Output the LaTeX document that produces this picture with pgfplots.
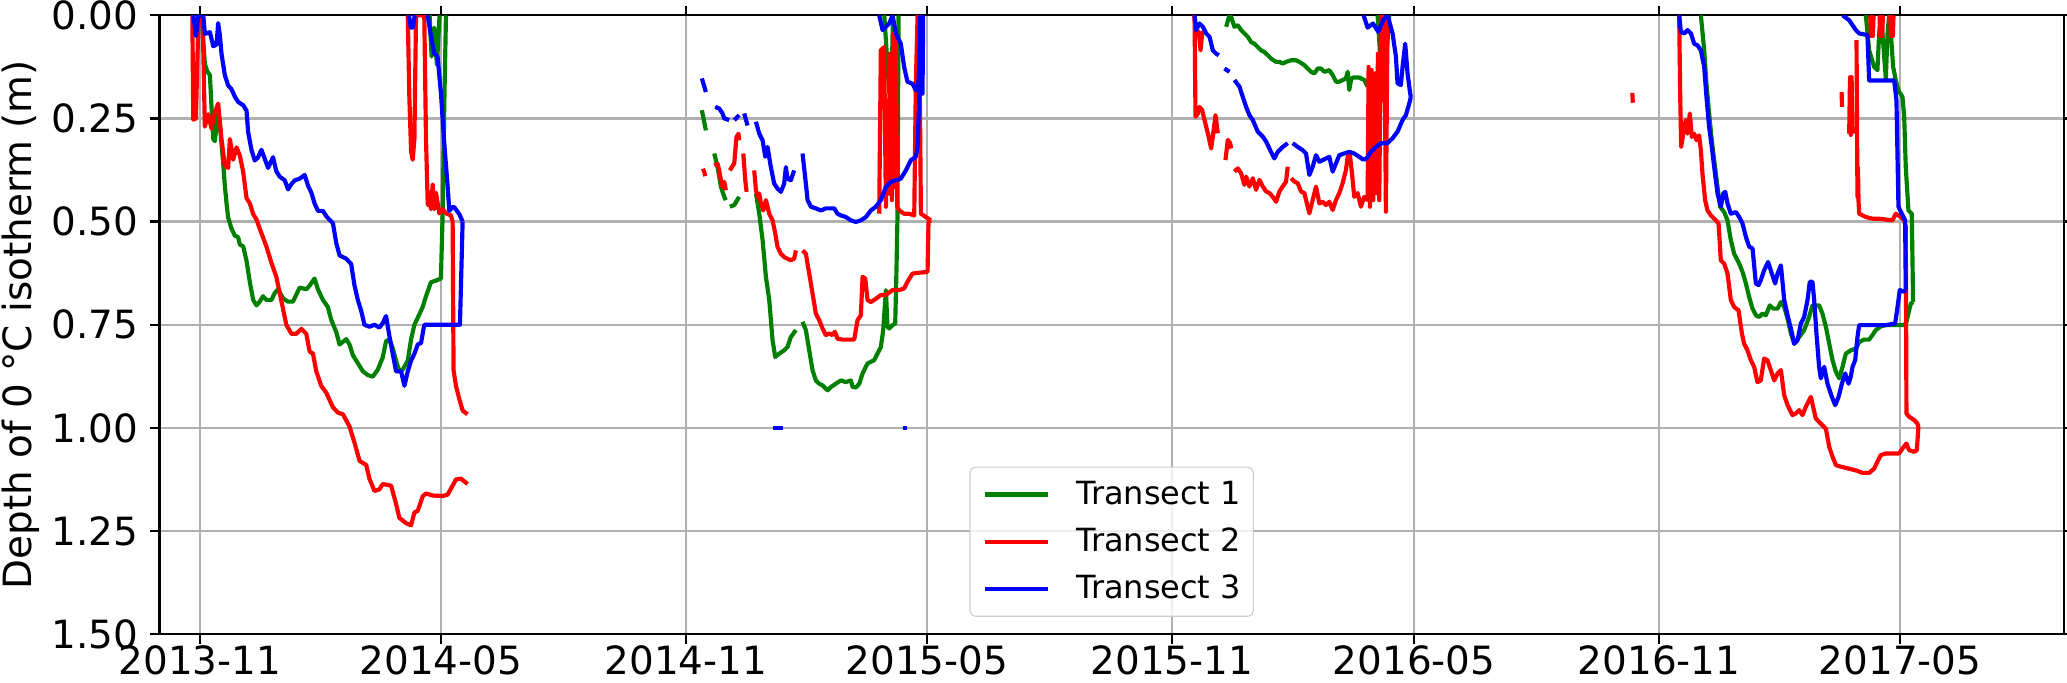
\documentclass[border=0pt]{standalone}
\usepackage{fontspec}
\setmainfont{DejaVu Sans}
\usepackage{pgfplots}
\pgfplotsset{compat=1.18}
\definecolor{mplgreen}{HTML}{008000}
\definecolor{mplred}{HTML}{FF0000}
\definecolor{mplblue}{HTML}{0000FF}
\definecolor{gridgray}{HTML}{B0B0B0}
\pgfplotsset{ser/.style={line width=1.5pt, line join=round, mark=none}}

\begin{document}
\begin{tikzpicture}
\begin{axis}[
  name=ax,
  scale only axis,
  width=685.6pt, height=222.8pt,
  xmin=-30.4, xmax=1400,
  ymin=0, ymax=1.5, y dir=reverse,
  xtick={0,181,365,546,730,912,1096,1277},
  xticklabels={2013-11,2014-05,2014-11,2015-05,2015-11,2016-05,2016-11,2017-05},
  ytick={0,0.25,0.5,0.75,1,1.25,1.5},
  yticklabel style={/pgf/number format/fixed, /pgf/number format/fixed zerofill,
    /pgf/number format/precision=2, /pgf/number format/assume math mode=true,
    anchor=east, xshift=-4pt},
  ticklabel style={font=\fontsize{14}{16}\selectfont, inner sep=0pt},
  xticklabel style={anchor=north, yshift=-0.6pt},
  grid=major,
  grid style={gridgray, line width=0.8pt},
  axis line style={line width=0.8pt},
  tick align=outside, major tick length=3.5pt,
  tick style={black, line width=0.8pt},
  ylabel={Depth of 0 °C isotherm (m)},
  ylabel style={font=\fontsize{14}{16}\selectfont, at={(rel axis cs:0,0.5)}, anchor=center, yshift=49.9pt},
  unbounded coords=jump,
  legend cell align=left,
  legend image code/.code={\draw[#1] (0pt,0pt) -- (23pt,0pt);},
  legend style={at={(0.5,0.028)}, anchor=south,
    font=\fontsize{11.5}{13}\selectfont,
    draw=black!20, rounded corners=2pt, fill=white, fill opacity=0.8, text opacity=1,
    inner xsep=4.5pt, inner ysep=4.9pt, row sep=7.1pt, column sep=9.25pt,
    nodes={inner sep=0pt, text height=8.4pt, text depth=1.5pt}},
]
% ---------------- Transect 1 (green)
\addplot[ser, mplgreen] coordinates {
(1.2,0) (3.7,0.118) (5.5,0.136) (7.5,0.145) (8.7,0.222) (10.0,0.30) (11.2,0.305) (12.5,0.266) (13.7,0.23) (15.0,0.266)
(17.5,0.36) (18.7,0.413) (20.0,0.456) (21.2,0.49) (23.7,0.517) (26.2,0.534) (28.7,0.538) (30.0,0.556) (32.5,0.56)
(35.0,0.595) (37.5,0.647) (40.0,0.69) (42.5,0.703) (44.9,0.694) (47.4,0.681) (49.9,0.69) (53.7,0.69) (56.2,0.673)
(58.7,0.664) (62.4,0.686) (66.2,0.694) (69.9,0.694) (72.4,0.677) (74.9,0.66) (79.9,0.664) (82.4,0.655) (86.1,0.638)
(88.6,0.664) (92.4,0.69) (96.1,0.707) (98.6,0.738) (102.4,0.768) (104.9,0.798) (109.9,0.785) (112.4,0.798) (114.9,0.824)
(117.4,0.837) (122.4,0.863) (126.1,0.872) (129.8,0.876) (133.6,0.859) (137.3,0.829) (139.8,0.79) (142.3,0.785)
(144.8,0.807) (147.3,0.837) (149.8,0.863) (152.3,0.859) (156.1,0.837) (158.6,0.785) (161.1,0.75) (163.6,0.733)
(167.3,0.707) (169.8,0.681) (173.5,0.647) (177.3,0.643) (181.0,0.638) (182.3,0.482) (183.5,0.222) (184.8,0)
};
\addlegendentry{Transect 1}
\addplot[ser, mplgreen, forget plot] coordinates {
(172.5,0) (174,0.10) (176,0.03) (178,0.12) (180,0)
};
\addplot[ser, mplgreen, forget plot] coordinates {
(377.0,0.23) (380.0,0.279) (0,nan)
(386.3,0.335) (388.8,0.368) (391.3,0.416) (393.8,0.44) (395.0,0.448) (0,nan)
(398.0,0.464) (401.3,0.46) (405.0,0.44) (0,nan)
(417.6,0.432) (420.1,0.481) (422.6,0.545) (425.1,0.634) (427.6,0.69) (430.1,0.788) (432.1,0.828) (435.1,0.82)
(438.8,0.812) (441.3,0.804) (443.8,0.78) (447.6,0.763) (0,nan)
(452.6,0.743) (455.1,0.763) (457.6,0.812) (460.1,0.86) (462.6,0.885) (465.1,0.893) (467.6,0.897) (470.1,0.905)
(471.4,0.909) (473.9,0.901) (477.6,0.893) (481.4,0.885) (485.1,0.889) (488.9,0.885) (490.2,0.901) (492.7,0.902)
(495.2,0.893) (497.7,0.868) (501.4,0.844) (503.9,0.84) (506.4,0.836) (508.9,0.82) (511.4,0.804) (513.2,0.763)
(515.2,0.666) (516.4,0.755) (517.7,0.759) (520.2,0.751) (522.2,0.747) (523.2,0.61) (523.9,0.489) (524.7,0)
};
\addplot[ser, mplgreen, forget plot] coordinates {
(514,0) (517,0.15) (519,0.25) (520.5,0)
};
\addplot[ser, mplgreen, forget plot] coordinates {
(770.75,0.028) (773.25,0) (774.5,0.004) (777,0.028) (779.5,0.024) (782,0.036) (784.5,0.044) (787,0.052) (789.5,0.065)
(792,0.069) (794.5,0.077) (797,0.085) (799.5,0.089) (802,0.097) (804.5,0.105) (808.25,0.113) (810.75,0.113)
(813.25,0.117) (815.75,0.113) (819.5,0.109) (823.25,0.109) (825.75,0.113) (829.5,0.121) (832,0.129) (834.5,0.137)
(837,0.141) (839.5,0.129) (842,0.129) (844.5,0.137) (848.25,0.133) (850.75,0.145) (853.25,0.161) (855.75,0.161)
(858.25,0.157) (860.75,0.153) (862,0.137) (863.25,0.181) (864.5,0.157) (865.75,0.151) (870.75,0.151) (874.5,0.157)
(877,0.173)
};
\addplot[ser, mplgreen, forget plot] coordinates {
(884.5,0) (887,0.125) (889,0.06) (891,0.11) (893.25,0)
};
\addplot[ser, mplgreen, forget plot] coordinates {
(1127.3,0) (1129.8,0.085) (1131.5,0.166) (1133.5,0.238) (1135.5,0.303) (1137.3,0.351) (1139.8,0.416) (1141.8,0.464)
(1144.8,0.477) (1147.3,0.497) (1149.8,0.545) (1152.3,0.578) (1156.1,0.602) (1158.6,0.622) (1161.1,0.65) (1163.6,0.683)
(1166.1,0.711) (1168.6,0.727) (1171.1,0.731) (1173.6,0.723) (1176.1,0.727) (1179.1,0.703) (1181.6,0.711) (1184.9,0.711)
(1187.4,0.695) (1189.9,0.707) (1192.4,0.735) (1194.9,0.771) (1197.4,0.796) (1201.1,0.78) (1204.9,0.763) (1208.6,0.731)
(1211.1,0.703) (1216.1,0.703) (1218.6,0.723) (1221.2,0.755) (1223.7,0.796) (1226.2,0.836) (1228.7,0.864) (1231.2,0.88)
(1233.7,0.852) (1236.2,0.82) (1239.9,0.812) (1243.7,0.808) (1246.2,0.792) (1249.9,0.786) (1253.7,0.786) (1256.2,0.775)
(1258.7,0.763) (1262.4,0.754) (1266.2,0.751) (1271.2,0.751) (1276.2,0.751) (1280.0,0.751) (1281.7,0.743) (1283.7,0.715)
(1285.0,0.699) (1286.7,0.695)
};
\addplot[ser, mplgreen, forget plot] coordinates {
(1251.2,0) (1253.7,0.085) (1257.4,0.125) (1259.9,0.133) (1261.2,0.044) (1262.4,0) (1263.7,0.044) (1266.2,0.153)
(1267.5,0.044) (1268.7,0) (1270.0,0.044) (1271.7,0.125) (1273.7,0.158) (1275.7,0.182) (1278.7,0.198) (1280.0,0.246)
(1281.2,0.368) (1283.2,0.473) (1285.7,0.481) (1286.7,0.695)
};
% ---------------- Transect 2 (red)
\addplot[ser, mplred] coordinates {
(-5.7,0) (-5.0,0.253) (-3.0,0.25) (-1.2,0.015) (0,0) (2.0,0) (3.7,0.27) (6.2,0.24) (8.7,0.275) (11.2,0.235) (13.7,0.214)
(16.2,0.30) (18.7,0.365) (21.2,0.37) (22.5,0.30) (25.0,0.35) (27.5,0.32) (30.0,0.34) (32.5,0.38) (35.0,0.443)
(37.5,0.456) (40.0,0.482) (42.5,0.495) (44.9,0.517) (49.9,0.56) (53.7,0.6) (57.4,0.634) (59.9,0.673) (64.9,0.75)
(68.7,0.772) (72.4,0.772) (76.2,0.76) (79.9,0.772) (82.4,0.815) (84.9,0.82) (87.4,0.863) (91.1,0.898) (94.9,0.915)
(99.9,0.95) (103.6,0.963) (107.4,0.967) (112.4,0.997) (116.1,1.036) (119.9,1.08) (124.9,1.09) (127.3,1.123)
(131.1,1.153) (134.8,1.149) (137.3,1.136) (143.6,1.14) (147.3,1.184) (149.8,1.218) (154.8,1.231) (158.6,1.236)
(161.1,1.205) (163.6,1.201) (167.3,1.166) (169.8,1.159) (174.8,1.164) (182.3,1.165) (186.0,1.162) (189.8,1.14)
(192.3,1.125) (196.0,1.123) (201.0,1.136)
};
\addlegendentry{Transect 2}
\addplot[ser, mplred, forget plot] coordinates {
(156.1,0) (157.3,0.2) (158.6,0.33) (159.8,0.35) (161.1,0.3) (162.3,0) (168.5,0) (169.8,0.3) (171.1,0.46) (172.3,0.43)
(173.5,0.47) (174.8,0.41) (176.0,0.47) (177.3,0.43) (179.8,0.48) (182.3,0.47) (184.8,0.48) (188.5,0.485) (189.8,0.5)
(190.5,0.86) (192.3,0.898) (194.8,0.93) (197.3,0.958) (201.0,0.967)
};
\addplot[ser, mplred, forget plot] coordinates {
(377.8,0.372) (378.8,0.38) (379.5,0.39) (0,nan)
(386.3,0.364) (388.8,0.36) (390.0,0.376) (391.3,0.40) (392.5,0.416) (393.8,0.404) (395.0,0.424) (0,nan)
(398.0,0.376) (401.3,0.359) (403.0,0.295) (404.5,0.287) (405.0,0.303) (0,nan)
(408.1,0.335) (409.6,0.40) (410.6,0.428) (0,nan)
(416.3,0.376) (417.6,0.424) (418.8,0.44) (420.1,0.432) (421.3,0.456) (423.1,0.473) (425.1,0.448) (427.6,0.481)
(430.1,0.497) (432.1,0.529) (433.8,0.561) (436.3,0.578) (438.8,0.586) (441.3,0.59) (443.8,0.594) (446.3,0.59)
(447.6,0.57) (0,nan)
(452.6,0.57) (455.1,0.578) (457.6,0.626) (460.1,0.674) (462.6,0.723) (465.1,0.739) (467.6,0.759) (470.1,0.775)
(472.6,0.771) (475.1,0.775) (476.9,0.767) (478.9,0.784) (482.6,0.786) (487.6,0.786) (491.4,0.786) (493.9,0.739)
(496.4,0.727) (497.7,0.634) (499.7,0.638) (501.4,0.69) (503.9,0.695) (507.7,0.687) (511.4,0.678) (515.2,0.678)
(520.2,0.666) (525.2,0.666) (528.9,0.662) (531.4,0.646) (535.2,0.626) (540.2,0.624) (546.5,0.622) (547.2,0.501)
(549.0,0.497)
};
\addplot[ser, mplred, forget plot] coordinates {
(510.2,0.481) (511.4,0.085) (513.9,0.077) (515.2,0.464) (516.4,0.206) (517.7,0.432) (518.4,0.093) (519.7,0.448)
(520.7,0.044) (521.4,0.416) (522.7,0.044) (523.7,0.464) (525.2,0.473) (528.9,0.481) (532.7,0.481) (536.5,0.485)
(537.7,0.166) (539.0,0) (540.2,0) (541.5,0.481) (545.2,0.489) (549.0,0.497)
};
\addplot[ser, mplred, forget plot] coordinates {
(747,0) (748.25,0.044) (750.25,0.04) (751.5,0.085) (752.75,0.044) (754,0.04)
};
\addplot[ser, mplred, forget plot] coordinates {
(747,0) (747.75,0.246) (749.5,0.238) (750.75,0.222) (752.75,0.23) (754.5,0.254) (757,0.286) (759.5,0.323)
(760.75,0.294) (762.75,0.242) (764.5,0.286) (0,nan)
(770.25,0.351) (772,0.302) (773.75,0.31) (774.5,0.323) (0,nan)
(777,0.379) (779.5,0.371) (782,0.383) (784.5,0.411) (785.75,0.391) (788.25,0.415) (790.75,0.395) (793.25,0.423)
(795.75,0.399) (798.25,0.415) (800.75,0.427) (803.25,0.431) (805.75,0.44) (808.25,0.452) (810.75,0.427)
(813.25,0.415) (815.75,0.403) (817,0.367) (0,nan)
(819.5,0.395) (822,0.403) (824.5,0.407) (827,0.427) (829.5,0.431) (832,0.464) (833.25,0.48) (835.75,0.448)
(838.25,0.415) (840.75,0.456) (843.25,0.452) (845.75,0.46) (848.25,0.452) (850.75,0.472) (853.25,0.448)
(855.75,0.431) (858.25,0.407) (860.75,0.375) (862,0.343) (863.75,0.339) (865.25,0.383) (867,0.44) (869.5,0.431)
(872,0.464) (874.5,0.44) (877,0.448) (877.75,0.125) (878.75,0.464) (880,0.133) (881.25,0.448) (882.5,0.141)
(883.75,0.431) (884.75,0.093) (885.75,0.448) (887,0) (888.25,0.206) (889.5,0) (890.75,0.476) (892,0)
};
\addplot[ser, mplred, forget plot] coordinates {
(1075.8,0.188) (1076.2,0.212)
};
\addplot[ser, mplred, forget plot] coordinates {
(1111.0,0) (1111.8,0.198) (1112.5,0.319) (1114.8,0.271) (1116.0,0.254) (1117.3,0.287) (1119.0,0.238) (1120.5,0.295)
(1122.3,0.287) (1124.0,0.303) (1126.0,0.291) (1127.3,0.327) (1128.5,0.384) (1130.5,0.448) (1132.3,0.473)
(1134.8,0.485) (1138.6,0.497) (1140.6,0.505) (1142.3,0.594) (1144.8,0.602) (1147.3,0.626) (1149.8,0.69)
(1152.3,0.707) (1155.6,0.715) (1158.1,0.771) (1159.8,0.796) (1162.3,0.812) (1164.8,0.836) (1167.3,0.852)
(1169.8,0.889) (1172.3,0.885) (1174.8,0.832) (1177.3,0.836) (1179.8,0.86) (1182.4,0.885) (1184.9,0.868)
(1187.4,0.86) (1189.9,0.921) (1192.4,0.945) (1196.1,0.969) (1198.6,0.965) (1201.1,0.957) (1203.6,0.969)
(1206.1,0.949) (1209.9,0.925) (1213.6,0.977) (1217.4,0.99) (1221.2,1.002) (1223.7,1.046) (1226.2,1.07)
(1228.7,1.09) (1232.4,1.094) (1238.7,1.099) (1243.7,1.103) (1248.7,1.109) (1253.7,1.109) (1257.4,1.099)
(1259.9,1.082) (1262.4,1.066) (1266.2,1.062) (1271.2,1.062) (1276.2,1.062) (1278.7,1.05) (1281.7,1.038)
(1283.7,1.054) (1287.5,1.058) (1289.5,1.054) (1290.7,0.998)
};
\addplot[ser, mplred, forget plot] coordinates {
(1233.0,0.186) (1233.3,0.222) (0,nan)
(1238.7,0.287) (1239.3,0.15) (1239.9,0.29) (1240.5,0.15) (1241.2,0.287) (0,nan)
(1244.2,0.06) (1244.9,0.44) (1245.3,0.37) (1245.7,0.45) (1246.2,0.481) (1251.2,0.489) (1256.2,0.493) (1261.2,0.493)
(1266.2,0.495) (1271.2,0.497) (1273.7,0.481) (1277.5,0.489) (1280.0,0.497) (1281.2,0.513) (1281.7,0.965)
(1283.7,0.973) (1287.5,0.981) (1290.0,0.99) (1290.7,0.998)
};
\addplot[ser, mplred, forget plot] coordinates {
(1254.5,0) (1255,0.05) (1256.5,0.05) (1257,0) (0,nan)
(1261.5,0) (1262,0.05) (1263.5,0.05) (1264,0) (0,nan)
(1269.5,0) (1270,0.05) (1271.5,0.05) (1272,0)
};
% ---------------- Transect 3 (blue)
\addplot[ser, mplblue] coordinates {
(-5.0,0) (-3.0,0.05) (-1.2,0) (2.5,0) (3.7,0.045) (7.5,0.041) (10.0,0.075) (12.5,0.071) (13.7,0.019) (15.0,0.049)
(16.2,0.093) (18.7,0.145) (21.2,0.17) (23.7,0.179) (26.2,0.197) (28.7,0.21) (32.5,0.218) (35.0,0.231) (36.2,0.283)
(38.7,0.326) (41.2,0.352) (43.7,0.344) (46.2,0.326) (48.7,0.348) (51.2,0.37) (54.9,0.344) (57.4,0.378) (59.9,0.391)
(63.7,0.4) (66.2,0.422) (68.7,0.409) (71.2,0.4) (74.9,0.396) (78.7,0.387) (81.2,0.413) (83.7,0.43) (86.1,0.456)
(88.6,0.474) (92.4,0.474) (94.9,0.487) (99.9,0.504) (102.4,0.552) (104.9,0.582) (109.9,0.59) (113.6,0.603)
(116.1,0.655) (118.6,0.69) (121.1,0.716) (123.6,0.75) (127.3,0.755) (131.1,0.75) (134.8,0.757) (137.3,0.746)
(139.8,0.729) (142.3,0.777) (144.8,0.82) (147.3,0.863) (151.1,0.863) (153.6,0.898) (156.1,0.863) (158.6,0.837)
(161.1,0.82) (163.6,0.798) (166.1,0.794) (168.5,0.75) (195.3,0.75) (197.3,0.5)
};
\addlegendentry{Transect 3}
\addplot[ser, mplblue, forget plot] coordinates {
(171.0,0) (173.5,0.05) (176.0,0.093) (178.5,0.1) (181.0,0.188) (183.5,0.309) (186.0,0.413) (187.3,0.474)
(189.8,0.465) (191.0,0.465) (194.8,0.482) (197.3,0.5)
};
\addplot[ser, mplblue, forget plot] coordinates {
(157,0) (158.3,0.03) (160,0.03) (161.3,0)
};
\addplot[ser, mplblue, forget plot] coordinates {
(377.0,0.153) (380.0,0.186) (0,nan)
(387.0,0.222) (390.0,0.226) (392.5,0.238) (393.8,0.25) (397.5,0.254) (0,nan)
(401.3,0.254) (405.0,0.242) (0,nan)
(408.8,0.238) (411.3,0.267) (0,nan)
(417.6,0.258) (420.1,0.287) (422.6,0.303) (424.6,0.343) (426.3,0.319) (428.8,0.368) (431.3,0.408) (433.8,0.42)
(436.3,0.428) (438.8,0.408) (440.1,0.368) (441.3,0.396) (443.8,0.4) (446.3,0.376) (0,nan)
(452.6,0.335) (455.1,0.408) (456.4,0.448) (458.9,0.464) (462.6,0.468) (466.4,0.473) (470.1,0.468) (473.9,0.468)
(476.4,0.468) (478.9,0.481) (481.4,0.485) (485.1,0.489) (488.9,0.497) (492.7,0.501) (496.4,0.497) (500.2,0.489)
(503.9,0.473) (507.7,0.464) (511.4,0.448) (515.2,0.416) (518.9,0.404) (522.7,0.4) (526.4,0.396) (530.2,0.376)
(534.0,0.351) (537.7,0.343) (539.0,0.319) (540.2,0.206) (540.7,0)
};
\addplot[ser, mplblue, forget plot] coordinates {
(510.2,0) (512.7,0.036) (517.7,0.02) (520.2,0) (522.7,0.044) (526.4,0.069) (528.9,0.125) (531.4,0.161) (535.2,0.166)
(537.7,0.182) (539.7,0.161) (541.5,0.044) (542.7,0.19) (543.2,0)
};
\addplot[ser, mplblue, forget plot] coordinates {
(430.1,1.0) (437.6,1.0) (0,nan) (527.7,1.0) (531.4,1.0)
};
\addplot[ser, mplblue, forget plot] coordinates {
(747,0) (748.25,0.036) (750.75,0.02) (753.25,0.028) (755.75,0.044) (758.25,0.052) (760.75,0.085) (763.25,0.093)
(765.25,0.097) (0,nan)
(769.5,0.129) (773.25,0.137) (0,nan)
(777,0.157) (780.75,0.173) (783.25,0.198) (785.75,0.222) (788.25,0.242) (790.75,0.254) (794.5,0.282) (798.25,0.294)
(800.75,0.306) (803.25,0.323) (807,0.347) (809.5,0.331) (813.25,0.319) (817,0.31) (0,nan)
(820.75,0.31) (824.5,0.319) (828.25,0.327) (830.75,0.335) (833.25,0.387) (835.75,0.367) (838.25,0.339)
(840.75,0.355) (843.25,0.351) (845.75,0.347) (848.25,0.343) (850.75,0.379) (853.25,0.359) (855.75,0.339)
(859.5,0.335) (863.25,0.331) (867,0.335) (870.75,0.343) (873.25,0.349) (875.75,0.349) (879.5,0.331) (883.25,0.319)
(887,0.31) (892,0.31) (895.75,0.298) (899.5,0.282) (903.25,0.254) (905.75,0.242) (908.25,0.214) (909.5,0.198)
};
\addplot[ser, mplblue, forget plot] coordinates {
(874,0) (877,0.03) (881,0.02) (885,0.04) (889,0.01) (892,0) (895.75,0.044) (898.25,0.1) (899.5,0.165) (902,0.169)
(903.25,0.125) (905.25,0.069) (907,0.141) (909,0.19) (909.5,0.198)
};
\addplot[ser, mplblue, forget plot] coordinates {
(1111.0,0) (1112.3,0.04) (1114.8,0.044) (1117.3,0.036) (1119.8,0.044) (1122.3,0.069) (1124.8,0.073) (1127.3,0.085)
(1129.8,0.125) (1131.5,0.198) (1133.5,0.271) (1135.5,0.319) (1137.3,0.368) (1139.8,0.432) (1142.3,0.464)
(1144.1,0.432) (1145.6,0.428) (1147.3,0.456) (1149.8,0.481) (1153.6,0.477) (1156.1,0.489) (1158.6,0.505)
(1161.1,0.537) (1163.6,0.561) (1166.1,0.565) (1168.6,0.65) (1170.6,0.654) (1172.3,0.642) (1174.8,0.618)
(1177.8,0.598) (1179.8,0.618) (1183.1,0.65) (1184.9,0.626) (1187.4,0.606) (1189.9,0.69) (1192.4,0.727)
(1194.9,0.759) (1197.4,0.796) (1199.9,0.788) (1202.4,0.747) (1204.9,0.731) (1207.4,0.69) (1209.1,0.646)
(1211.1,0.646) (1212.4,0.69) (1214.1,0.771) (1216.1,0.852) (1217.4,0.88) (1219.9,0.852) (1222.4,0.893)
(1225.7,0.925) (1228.2,0.945) (1230.7,0.925) (1233.2,0.893) (1235.7,0.868) (1238.2,0.893) (1239.9,0.876)
(1241.2,0.852) (1243.2,0.836) (1244.9,0.78) (1246.2,0.751) (1256.2,0.751) (1266.2,0.751) (1273.2,0.747)
(1275.0,0.707) (1276.7,0.666) (1280.0,0.67) (1281.2,0.666)
};
\addplot[ser, mplblue, forget plot] coordinates {
(1233.7,0) (1238.7,0.012) (1243.7,0.036) (1246.2,0.044) (1252.4,0.048) (1253.7,0.158) (1263.7,0.158) (1272.5,0.158)
(1274.2,0.206) (1275.7,0.464) (1278.2,0.481) (1280.7,0.497) (1281.2,0.666)
};
\end{axis}
\pgfresetboundingbox
\path ([shift={(-57.4pt,-17.3pt)}]ax.south west) rectangle ([shift={(1.1pt,5.5pt)}]ax.north east);
\end{tikzpicture}
\end{document}
